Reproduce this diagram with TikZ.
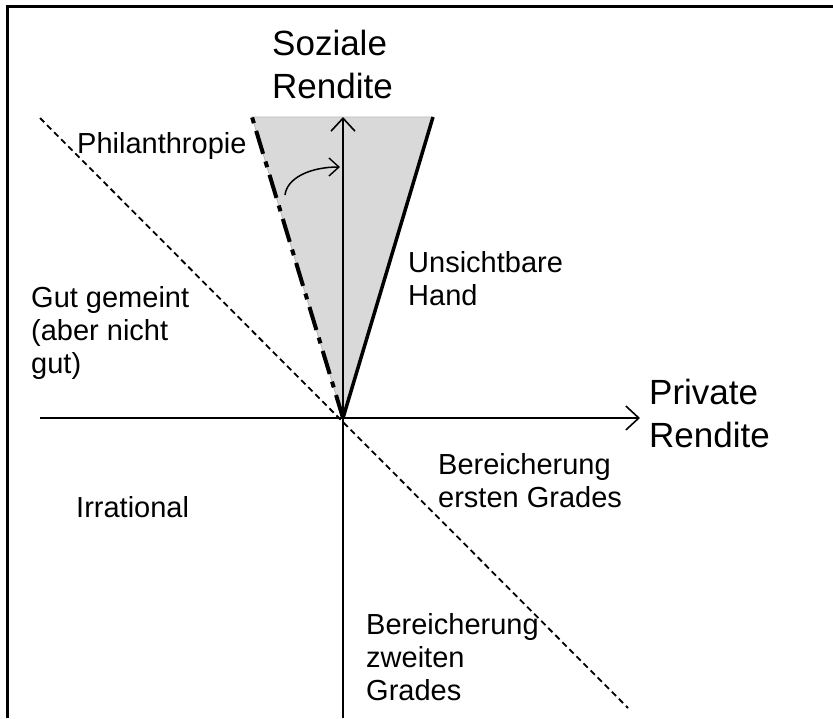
\documentclass[tikz,border=0pt]{standalone}
\usepackage{fontspec}
\setmainfont{Liberation Sans}
\usetikzlibrary{arrows.meta}
\begin{document}
\begin{tikzpicture}[x=1pt, y=-1pt,
    axis/.style={line width=1.8pt, -{Straight Barb[length=13pt,width=24pt,line width=1.6pt]}},
    lbl/.style={anchor=base west, inner sep=0pt, align=left, font=\fontsize{29}{33}\selectfont},
    title/.style={anchor=base west, inner sep=0pt, align=left, font=\fontsize{35}{43}\selectfont}]
  \useasboundingbox (0,0) rectangle (833,718);
  \draw[line width=3pt] (7,718) -- (7,6) -- (833,6);

  % points of the diagram
  \coordinate (O) at (343,418);
  \coordinate (X0) at (40,418);
  \coordinate (X1) at (640,418);
  \coordinate (Y0) at (343,718);
  \coordinate (Y1) at (343,117);
  \coordinate (L) at (252,117);
  \coordinate (R) at (433,117);
  \coordinate (D0) at (40,118);
  \coordinate (D1) at (628,708);
  \coordinate (C0) at (285,195);
  \coordinate (C1) at (340,167);

  % cone
  \fill[gray!30, draw=gray!55, line width=0.8pt] (O) -- (L) -- (R) -- cycle;
  \draw[line width=1.8pt, dash pattern=on 6pt off 4pt] (D0) -- (D1);
  \draw[axis] (X0) -- (X1);
  \draw[axis] (Y0) -- (Y1);
  \draw[line width=4pt, dash pattern=on 24pt off 8pt on 6pt off 8pt] (O) -- (L);
  \draw[line width=3.5pt] (O) -- (R);
  \draw[line width=1.5pt, -{Straight Barb[length=10pt,width=18pt,line width=1.4pt]}]
    (C0) .. controls (287,178) and (310,167) .. (C1);

  % labels (base = last line)
  \node[title] (soz) at (272,98) {Soziale\\Rendite};
  \node[title] (priv) at (649,447) {Private\\Rendite};
  \node[lbl] (phil) at (77,153) {Philanthropie};
  \node[lbl] (hand) at (408,305) {Unsichtbare\\Hand};
  \node[lbl] (gut) at (31,373) {Gut gemeint\\(aber nicht\\gut)};
  \node[lbl] (irr) at (76,517) {Irrational};
  \node[lbl] (ber1) at (438,507) {Bereicherung\\ersten Grades};
  \node[lbl] (ber2) at (366,700) {Bereicherung\\zweiten\\Grades};
\end{tikzpicture}
\end{document}
